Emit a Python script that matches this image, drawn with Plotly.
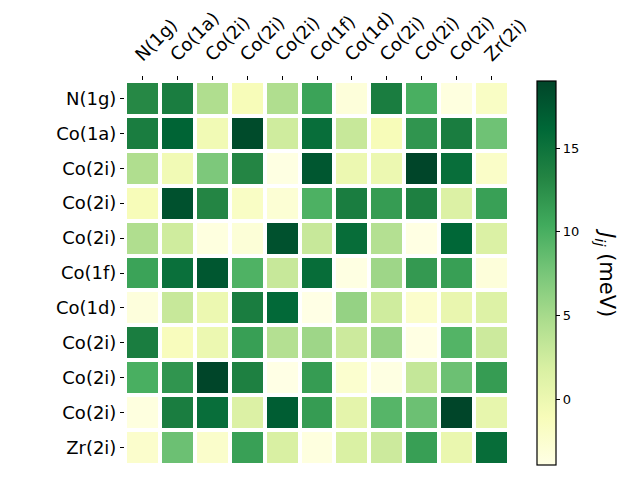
import plotly.graph_objects as go

labels = ["N(1g)", "Co(1a)", "Co(2i)", "Co(2i)", "Co(2i)", "Co(1f)",
          "Co(1d)", "Co(2i)", "Co(2i)", "Co(2i)", "Zr(2i)"]

row_n1g  = [13.0, 14.0, 4.5, -1.0, 4.5, 11.0, -3.2, 14.0, 10.0, -3.5, -1.8]
row_co1a = [14.0, 16.5, -0.5, 18.5, 2.5, 15.5, 3.0, -1.0, 12.0, 14.0, 8.0]
row_co2a = [4.5, -0.5, 7.3, 13.2, -3.7, 17.5, 0.0, 0.0, 19.0, 15.5, -2.0]
row_co2b = [-1.0, 18.0, 13.2, -1.8, -2.8, 9.8, 14.0, 11.5, 13.7, 1.5, 11.2]
row_co2c = [4.5, 2.5, -3.5, -3.0, 18.0, 3.0, 15.6, 4.2, -3.8, 16.2, 1.6]
row_co1f = [11.0, 15.3, 17.5, 9.7, 3.0, 15.6, -3.7, 5.5, 11.7, 11.3, -3.2]
row_co1d = [-3.3, 3.0, 0.0, 14.0, 16.0, -3.9, 6.0, 2.5, -2.3, 0.3, 1.4]
row_co2d = [14.0, -1.3, 0.0, 11.3, 4.2, 5.5, 2.7, 6.0, -3.8, 9.5, 2.7]
row_co2e = [10.0, 12.0, 19.0, 13.7, -3.9, 11.5, -2.5, -3.7, 3.2, 8.2, 11.5]
row_co2f = [-3.5, 14.0, 15.5, 1.5, 17.0, 11.5, 0.8, 9.3, 8.2, 19.0, 0.5]
row_zr2i = [-2.3, 8.2, -2.2, 11.2, 1.8, -3.5, 1.7, 2.7, 11.3, 0.2, 15.6]

z = [row_n1g, row_co1a, row_co2a, row_co2b, row_co2c, row_co1f,
     row_co1d, row_co2d, row_co2e, row_co2f, row_zr2i]

zmin, zmax = -3.9, 19.0
cb_ticks = [0, 5, 10, 15]

ylgn = [[0.0, "#ffffe5"], [0.125, "#f7fcb9"], [0.25, "#d9f0a3"],
        [0.375, "#addd8e"], [0.5, "#78c679"], [0.625, "#41ab5d"],
        [0.75, "#238443"], [0.875, "#006837"], [1.0, "#004529"]]

idx = list(range(len(labels)))

# page body has an 8px margin; figure is sized to fit the window
OFF = 8
FW, FH = 640 - OFF, 480 - OFF
L, T = 124.5 - OFF, 81 - OFF
W, H = 384.5, 384
R = FW - L - W
B = FH - T - H

fig = go.Figure(go.Heatmap(
    z=z, x=idx, y=idx, colorscale=ylgn, zmin=zmin, zmax=zmax,
    xgap=4, ygap=4,
    colorbar=dict(
        x=(537 - OFF - L) / W, xanchor="left", xref="paper",
        y=0.5, yanchor="middle", len=1.0, lenmode="fraction",
        thickness=19, thicknessmode="pixels", xpad=0, ypad=0,
        outlinewidth=1.2, outlinecolor="black",
        tickvals=cb_ticks, ticks="outside", ticklen=4, tickcolor="black",
        tickfont=dict(size=13, color="black", family="DejaVu Sans"),
    ),
))

fig.update_layout(
    width=FW, height=FH,
    margin=dict(l=L, r=R, t=T, b=B, autoexpand=False),
    plot_bgcolor="white", paper_bgcolor="white",
    font=dict(family="DejaVu Sans", color="black"),
    xaxis=dict(side="top", tickvals=idx, ticktext=labels, tickangle=-45,
               ticks="outside", ticklen=4, tickcolor="black",
               tickfont=dict(size=18), showgrid=False, zeroline=False,
               ticklabelshift=-6, ticklabelstandoff=4,
               range=[-0.5, 10.5], automargin=False),
    yaxis=dict(tickvals=idx, ticktext=labels, autorange=False,
               range=[10.5, -0.5],
               ticks="outside", ticklen=4, tickcolor="black",
               tickfont=dict(size=18), showgrid=False, zeroline=False,
               automargin=False),
    annotations=[dict(
        text="<i>J</i><sub><i>ij</i></sub> (meV)", textangle=90,
        x=(606 - OFF - L) / W, xref="paper", y=0.5, yref="paper",
        showarrow=False, xanchor="center", yanchor="middle",
        font=dict(size=21, color="black"))],
)

fig.write_html("out.html")
